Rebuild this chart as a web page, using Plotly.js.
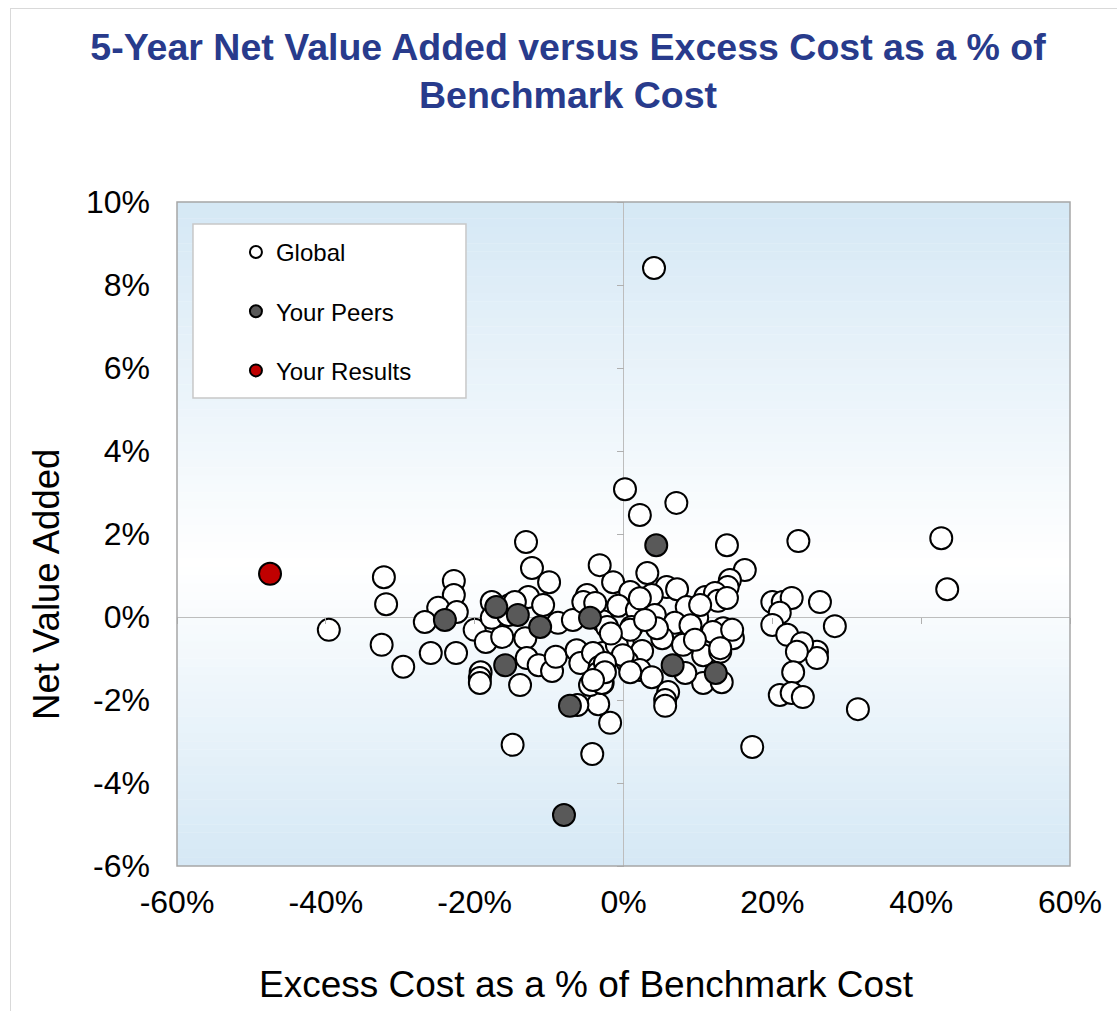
<!DOCTYPE html>
<html><head><meta charset="utf-8">
<script src="https://cdn.plot.ly/plotly-3.0.1.min.js"></script>
<style>
html,body{margin:0;padding:0;background:#fff;}
#chart{width:1117px;height:1011px;position:absolute;left:0;top:0;}
#frame{position:absolute;left:10px;top:8px;width:1200px;height:1100px;border:1px solid #d9d9d9;pointer-events:none;}
</style>
</head><body>
<div id="chart"></div><div id="frame"></div>
<script>
// Excess cost (% of benchmark cost) and 5-year net value added (%)
const globalX = [4.1,0.2,2.2,7.1,13.9,23.5,42.7,43.5,16.3,-13.1,-32.2,-31.9,-39.6,-32.5,-29.6,-14.9,-4.2,-1.8,-3.4,17.3,31.5,28.4,26.4,26.0,26.0,-3.2,-12.3,-10.0,-22.8,-22.8,-24.9,-22.4,-26.7,-25.9,-22.5,20.0,21.4,22.6,21.0,20.0,22.0,24.0,23.3,22.8,21.0,22.6,24.1,14.3,14.0,11.0,12.3,12.7,9.9,13.4,14.7,10.7,13.0,10.7,13.2,3.2,-1.4,5.8,7.2,0.9,3.8,-0.7,1.8,4.2,8.5,-2.8,1.1,6.9,5.2,-0.1,8.0,-2.8,2.5,0.5,2.2,3.8,8.3,6.0,5.6,5.6,-2.8,13.9,12.0,-17.7,-15.3,-12.8,-10.8,-8.8,-6.8,-4.9,-5.4,-3.8,-20.0,-18.5,-16.3,-17.7,-13.2,-19.2,-19.3,-19.3,-13.9,-13.0,-11.4,-9.6,-9.1,-6.3,-5.8,-4.1,-3.2,-3.4,-4.5,-2.9,-6.2,-0.9,-0.1,0.9,-15.5,-14.6,-2.2,-2.5,-2.5,0.9,-4.1,14.6,13.0,9.0,9.6,4.5,2.9,-1.7,2.2,10.3];
const globalY = [8.41,3.08,2.46,2.75,1.73,1.83,1.90,0.67,1.13,1.81,0.96,0.31,-0.31,-0.67,-1.20,-3.08,-3.30,-2.55,-2.10,-3.13,-2.22,-0.22,0.36,-0.84,-0.99,1.25,1.18,0.84,0.87,0.53,0.22,0.12,-0.12,-0.87,-0.87,0.36,0.36,0.46,0.10,-0.19,-0.43,-0.63,-0.84,-1.33,-1.88,-1.83,-1.93,0.89,0.72,0.48,0.58,0.39,-0.02,-0.27,-0.51,-0.92,-0.84,-1.59,-1.57,1.06,0.84,0.72,0.67,0.60,0.53,0.27,0.17,0.05,0.24,-0.10,-0.24,-0.14,-0.51,-0.63,-0.67,-0.87,-0.82,-1.08,-1.28,-1.45,-1.35,-1.81,-2.00,-2.14,-1.59,0.46,-0.36,0.36,0.29,0.48,0.29,-0.14,-0.07,0.53,0.36,0.34,-0.31,-0.60,-0.48,-0.02,-0.51,-1.33,-1.47,-1.59,-1.64,-0.99,-1.16,-1.30,-0.96,-0.80,-1.11,-0.87,-1.20,-1.35,-1.64,-1.59,-2.12,-0.67,-0.92,-0.31,0.05,0.36,-0.24,-1.11,-1.33,-1.33,-1.52,-0.31,-0.75,-0.20,-0.55,-0.27,-0.07,-0.40,0.45,0.29];
const peersX = [4.4,-17.1,-24.0,-14.2,-11.2,-4.5,-15.9,-7.2,-8.0,6.6,12.4];
const peersY = [1.73,0.24,-0.07,0.05,-0.24,-0.02,-1.16,-2.14,-4.77,-1.16,-1.35];
const resultsX = [-47.5];
const resultsY = [1.04];

const seriesNames = ['Global','Your Peers','Your Results'];
const chartTitle = '5-Year Net Value Added versus Excess Cost as a % of<br>Benchmark Cost';
const xTitle = 'Excess Cost as a % of Benchmark Cost';
const yTitle = 'Net Value Added';
const xTickVals = [-60,-40,-20,0,20,40,60];
const xTickText = ['-60%','-40%','-20%','0%','20%','40%','60%'];
const yTickVals = [-6,-4,-2,0,2,4,6,8,10];
const yTickText = ['-6%','-4%','-2%','0%','2%','4%','6%','8%','10%'];

const mk = (fill) => ({size:22, color:fill, line:{color:'#000', width:2}});
const traces = [
  {type:'scatter', mode:'markers', name:seriesNames[0], x:globalX, y:globalY, marker:mk('#ffffff'), legendgroup:'g1', hoverinfo:'x+y'},
  {type:'scatter', mode:'markers', name:seriesNames[1], x:peersX, y:peersY, marker:mk('#595959'), legendgroup:'g2', hoverinfo:'x+y'},
  {type:'scatter', mode:'markers', name:seriesNames[2], x:resultsX, y:resultsY, marker:mk('#c00000'), legendgroup:'g3', hoverinfo:'x+y'},
  {type:'scatter', mode:'markers', x:[], y:[], xaxis:'x2', yaxis:'y2', showlegend:false, hoverinfo:'skip'}
];

// background gradient strips (blue - white - blue)
const shapes = [];
const N = 80, blue = [213,232,245], mid = 0.55;
for (let i = 0; i < N; i++) {
  const t = (i + 0.5) / N; // fraction from top
  let f = t < mid ? 1 - t / mid : (t - mid) / (1 - mid);
  f = Math.min(1, Math.max(0, f));
  const c = blue.map(v => Math.round(255 + (v - 255) * f));
  shapes.push({type:'rect', xref:'paper', yref:'paper', x0:0, x1:1, y0:1 - (i + 1) / N, y1:1 - i / N + 0.0005,
    fillcolor:`rgb(${c[0]},${c[1]},${c[2]})`, line:{width:0}, layer:'below'});
}
// legend box
shapes.push({type:'rect', xref:'paper', yref:'paper', x0:0.0179, x1:0.3236, y0:0.7048, y1:0.9669,
  fillcolor:'#ffffff', line:{color:'#c8c8c8', width:1.5}, layer:'below'});
// plot border
shapes.push({type:'rect', xref:'paper', yref:'paper', x0:0, x1:1, y0:0, y1:1,
  fillcolor:'rgba(0,0,0,0)', line:{color:'#a6a6a6', width:1.5}, layer:'above'});

const layout = {
  width:1117, height:1011,
  margin:{l:177, r:47, t:202, b:145},
  paper_bgcolor:'rgba(0,0,0,0)', plot_bgcolor:'rgba(0,0,0,0)',
  font:{family:'Liberation Sans, Arial, sans-serif', color:'#000'},
  title:{text:chartTitle,
    font:{size:37.5, color:'#283b8c', weight:'bold', family:'Liberation Sans, Arial, sans-serif'},
    x:0.5085, xref:'container', xanchor:'center', y:0.941, yref:'container', yanchor:'top'},
  xaxis:{range:[-60,60], tickvals:xTickVals, ticktext:xTickText, tickfont:{size:32},
    showgrid:false, zeroline:true, zerolinecolor:'#bdbdbd', zerolinewidth:1, showline:false, ticks:'',
    ticklabelstandoff:14, fixedrange:true},
  yaxis:{range:[-6,10], tickvals:yTickVals, ticktext:yTickText, tickfont:{size:32},
    showgrid:false, zeroline:true, zerolinecolor:'#bdbdbd', zerolinewidth:1, showline:false, ticks:'',
    ticklabelstandoff:26, fixedrange:true},
  xaxis2:{overlaying:'x', matches:'x', anchor:'free', position:0.375, side:'bottom', showgrid:false, zeroline:false,
    showline:false, showticklabels:false, ticks:'outside', ticklen:6, tickcolor:'#b0b0b0', tickvals:[-60,-40,-20,20,40,60]},
  yaxis2:{overlaying:'y', matches:'y', anchor:'free', position:0.5, side:'left', showgrid:false, zeroline:false,
    showline:false, showticklabels:false, ticks:'outside', ticklen:7, tickcolor:'#b0b0b0', tickvals:[-6,-4,-2,2,4,6,8,10]},
  annotations:[
    {text:xTitle, xref:'paper', yref:'paper', x:0.459, y:-0.179, xanchor:'center', yanchor:'middle',
      showarrow:false, font:{size:37, color:'#000'}},
    {text:yTitle, xref:'paper', yref:'paper', x:-0.1456, y:0.4247, xanchor:'center', yanchor:'middle',
      textangle:-90, showarrow:false, font:{size:36.5, color:'#000'}}
  ],
  showlegend:true,
  legend:{x:0.066, y:0.958, xanchor:'left', yanchor:'top', bgcolor:'rgba(0,0,0,0)', borderwidth:0,
    font:{size:24, color:'#000'}, traceorder:'grouped', tracegroupgap:25, itemsizing:'constant'},
  shapes:shapes
};

Plotly.newPlot('chart', traces, layout, {displayModeBar:false, staticPlot:true});
</script>
</body></html>
